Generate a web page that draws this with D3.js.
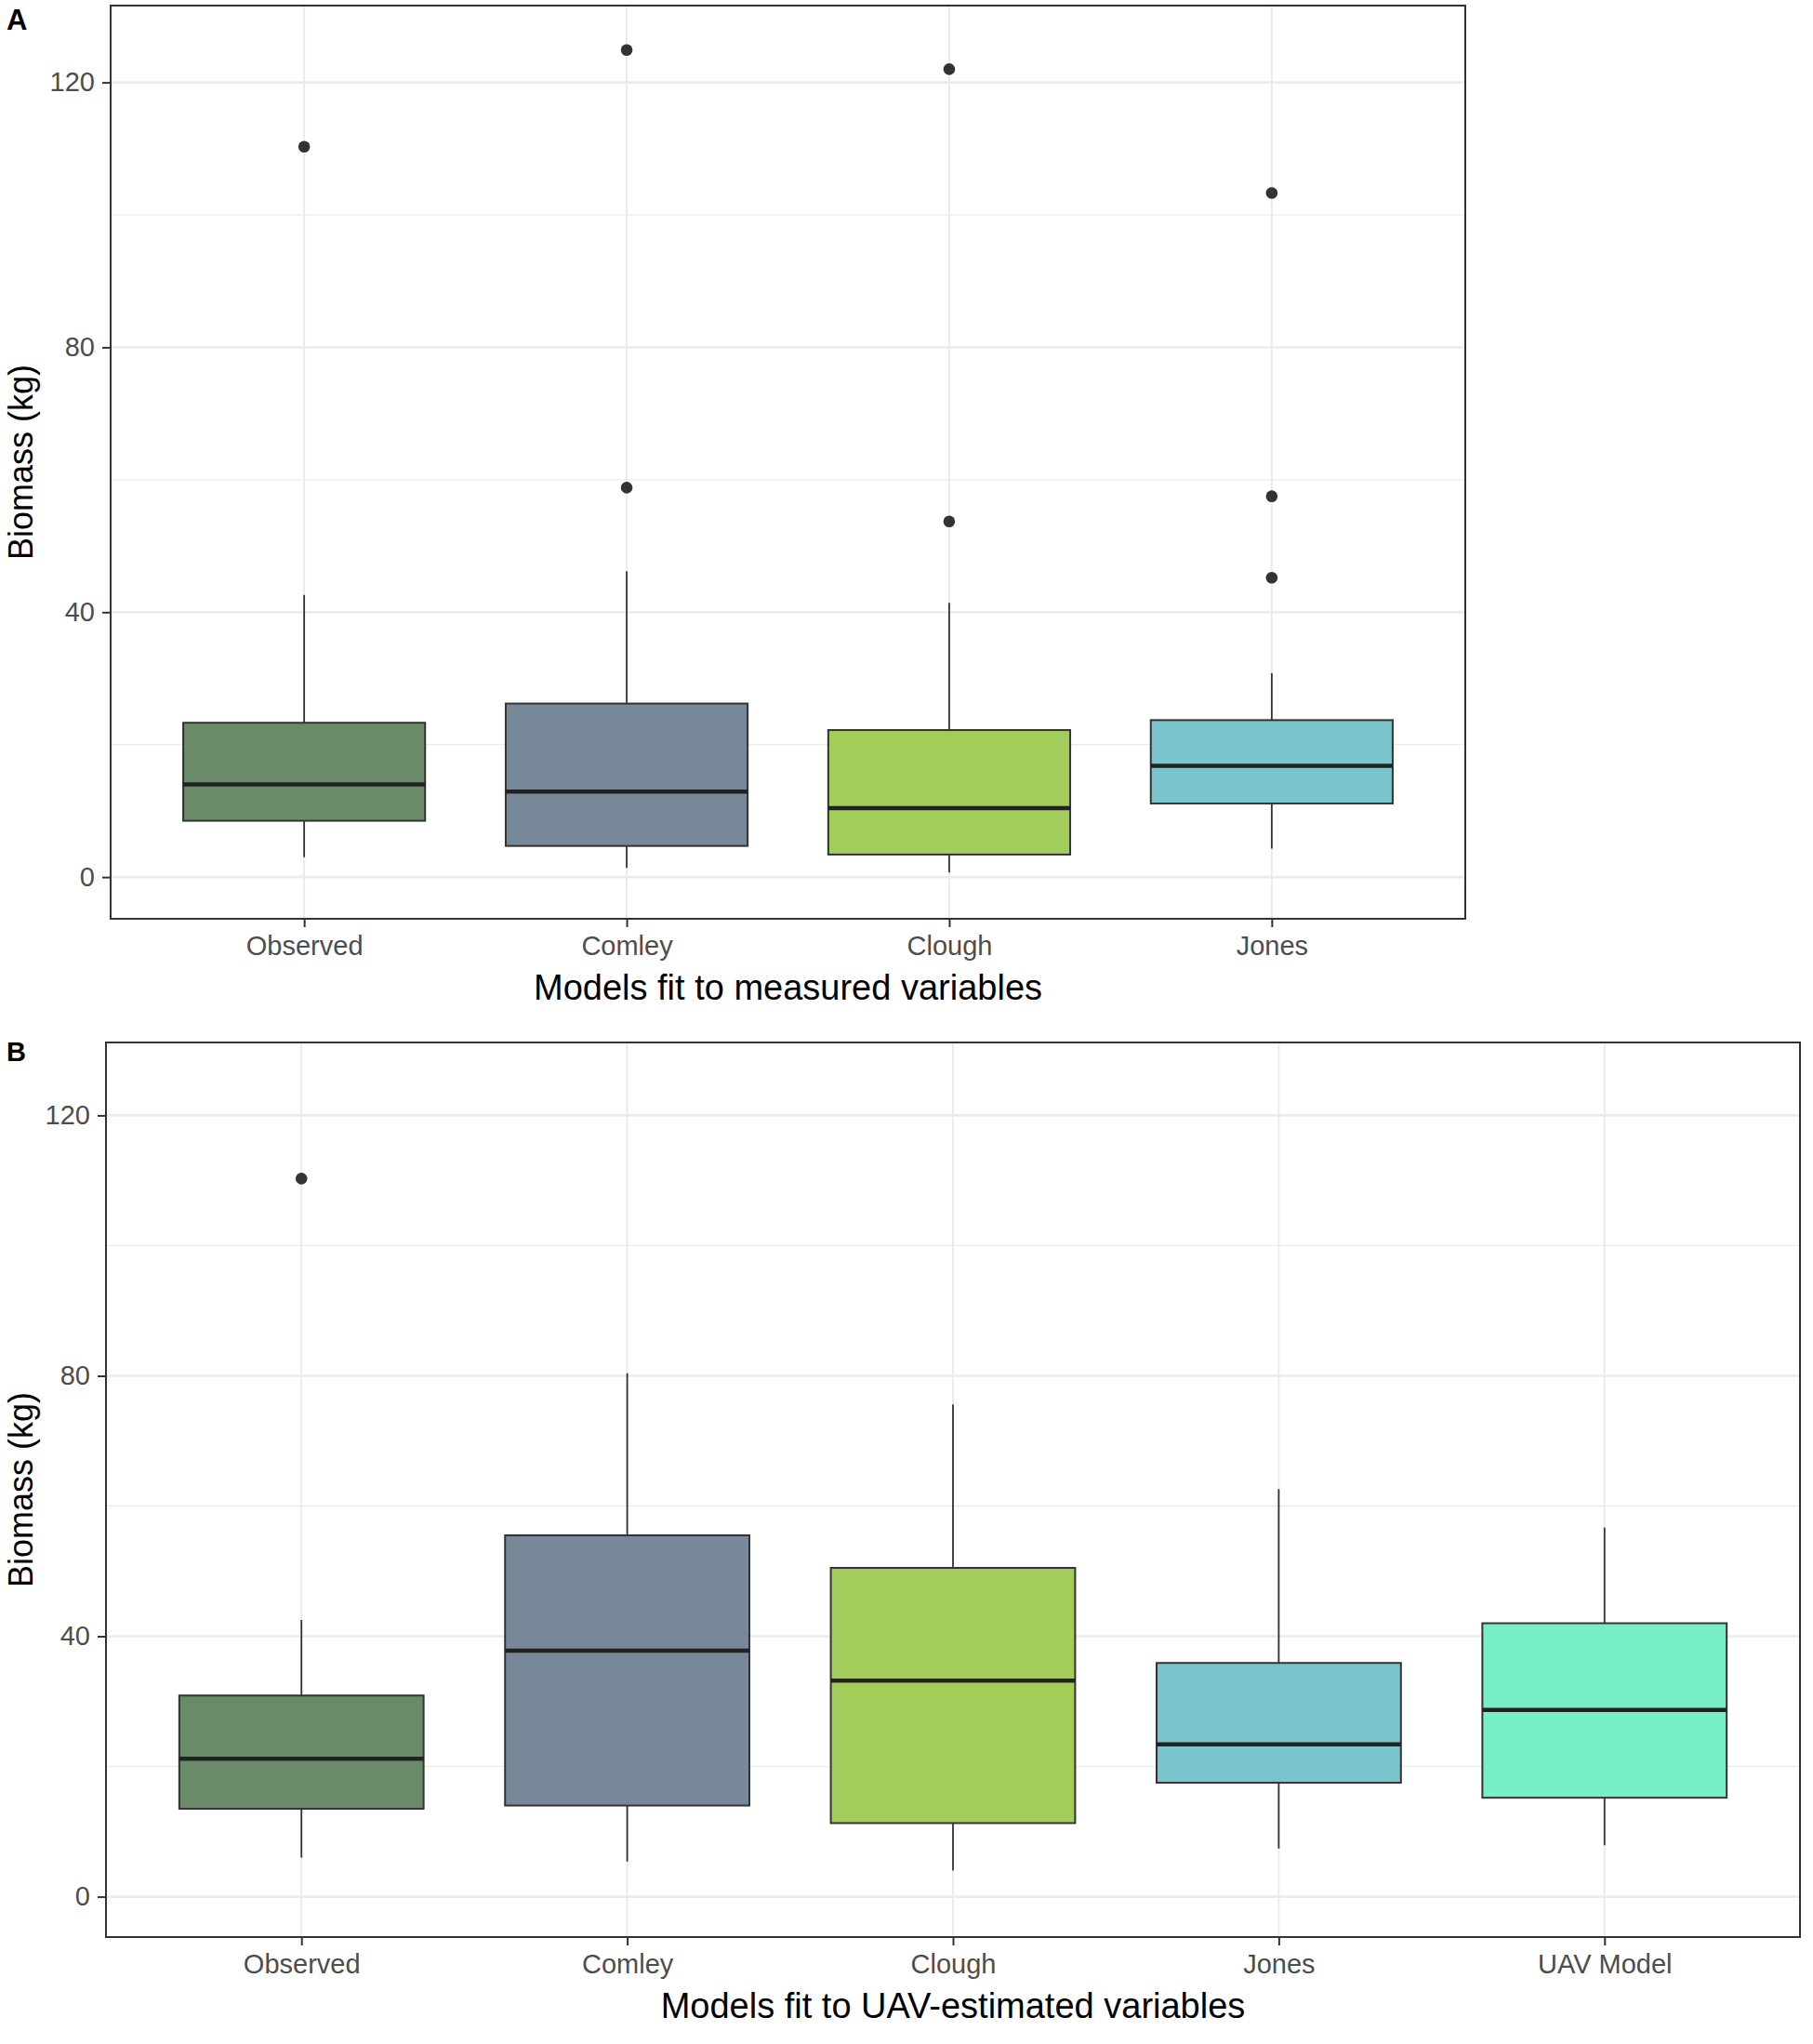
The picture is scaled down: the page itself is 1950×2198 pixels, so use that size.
<!DOCTYPE html>
<html>
<head>
<meta charset="utf-8">
<script src="https://cdn.jsdelivr.net/npm/d3@7"></script>
<style>
  html, body { margin: 0; padding: 0; background: #fff; }
  svg { display: block; font-family: "Liberation Sans", Arial, Helvetica, sans-serif; }
</style>
</head>
<body>
<svg id="chart" width="1950" height="2198"></svg>
<script>
// ---------- DATA ----------
const categoriesA = ["Observed", "Comley", "Clough", "Jones"];
const categoriesB = ["Observed", "Comley", "Clough", "Jones", "UAV Model"];

// Panel A (models fit to measured variables): [lower whisker, Q1, median, Q3, upper whisker]
const statsA = [
  [3.0, 8.5, 14.0, 23.3, 42.6],
  [1.4, 4.7, 12.9, 26.2, 46.2],
  [0.7, 3.4, 10.4, 22.2, 41.4],
  [4.3, 11.1, 16.8, 23.7, 30.8]
];
const outliersA = [
  [110.3],
  [124.9, 58.8],
  [122.0, 53.7],
  [103.3, 57.5, 45.2]
];

// Panel B (models fit to UAV-estimated variables)
const statsB = [
  [6.0, 13.5, 21.2, 30.9, 42.5],
  [5.4, 14.0, 37.8, 55.5, 80.4],
  [4.0, 11.3, 33.2, 50.5, 75.6],
  [7.4, 17.5, 23.4, 35.9, 62.6],
  [7.9, 15.2, 28.7, 42.0, 56.7]
];
const outliersB = [
  [110.3],
  [],
  [],
  [],
  []
];

const fillColors = ["#698B69", "#778899", "#A2CD5A", "#7AC5CD", "#76EEC6"];
const yTicks = [0, 40, 80, 120];
const yMinorTicks = [20, 60, 100];
const yDomainA = [-6.3, 131.6];
const yDomainB = [-6.2, 131.2];
const xTitleA = "Models fit to measured variables";
const xTitleB = "Models fit to UAV-estimated variables";
const yTitle = "Biomass (kg)";

// ---------- DRAW ----------
const svg = d3.select("#chart");

function drawPanel(cfg) {
  const { left, right, top, bottom, cats, stats, outliers, domain, xTitle, letter, letterY, letterSize } = cfg;
  const g = svg.append("g");

  const x = d3.scalePoint().domain(cats).range([left, right]).padding(0.6);
  const y = d3.scaleLinear().domain(domain).range([bottom, top]);
  const boxW = x.step() * 0.75;

  g.append("rect").attr("x", left).attr("y", top).attr("width", right - left).attr("height", bottom - top)
    .attr("fill", "#fff");

  // minor grid
  g.selectAll(".gmin").data(yMinorTicks).join("line")
    .attr("x1", left).attr("x2", right)
    .attr("y1", d => y(d)).attr("y2", d => y(d))
    .attr("stroke", "#EBEBEB").attr("stroke-width", 1.3);
  // major grid
  g.selectAll(".gmaj").data(yTicks).join("line")
    .attr("x1", left).attr("x2", right)
    .attr("y1", d => y(d)).attr("y2", d => y(d))
    .attr("stroke", "#EBEBEB").attr("stroke-width", 2.6);
  g.selectAll(".gx").data(cats).join("line")
    .attr("x1", d => x(d)).attr("x2", d => x(d))
    .attr("y1", top).attr("y2", bottom)
    .attr("stroke", "#EBEBEB").attr("stroke-width", 2);

  // boxes
  const box = g.selectAll(".box").data(cats).join("g");
  box.append("line")
    .attr("x1", d => x(d)).attr("x2", d => x(d))
    .attr("y1", (d, i) => y(stats[i][4])).attr("y2", (d, i) => y(stats[i][3]))
    .attr("stroke", "#333").attr("stroke-width", 1.8);
  box.append("line")
    .attr("x1", d => x(d)).attr("x2", d => x(d))
    .attr("y1", (d, i) => y(stats[i][1])).attr("y2", (d, i) => y(stats[i][0]))
    .attr("stroke", "#333").attr("stroke-width", 1.8);
  box.append("rect")
    .attr("x", d => x(d) - boxW / 2).attr("width", boxW)
    .attr("y", (d, i) => y(stats[i][3]))
    .attr("height", (d, i) => y(stats[i][1]) - y(stats[i][3]))
    .attr("fill", (d, i) => fillColors[i])
    .attr("stroke", "#333").attr("stroke-width", 2);
  box.append("line")
    .attr("x1", d => x(d) - boxW / 2).attr("x2", d => x(d) + boxW / 2)
    .attr("y1", (d, i) => y(stats[i][2])).attr("y2", (d, i) => y(stats[i][2]))
    .attr("stroke", "#222").attr("stroke-width", 4.5);

  // outliers
  const pts = [];
  outliers.forEach((arr, i) => arr.forEach(v => pts.push({ c: cats[i], v })));
  g.selectAll(".out").data(pts).join("circle")
    .attr("cx", d => x(d.c)).attr("cy", d => y(d.v)).attr("r", 6.3)
    .attr("fill", "#333");

  // border
  g.append("rect").attr("x", left).attr("y", top).attr("width", right - left).attr("height", bottom - top)
    .attr("fill", "none").attr("stroke", "#333").attr("stroke-width", 2);

  // y axis
  const yAxis = d3.axisLeft(y).tickValues(yTicks).tickSize(9).tickPadding(8).tickFormat(d3.format("d"));
  const ya = g.append("g").attr("transform", `translate(${left},0)`).call(yAxis);
  ya.select(".domain").remove();
  ya.selectAll(".tick line").attr("stroke", "#333").attr("stroke-width", 2);
  ya.selectAll(".tick text").attr("fill", "#4D4D4D").attr("font-size", 29)
    .attr("font-family", "Liberation Sans, Arial, sans-serif");

  // x axis
  const xAxis = d3.axisBottom(x).tickSize(9).tickPadding(9);
  const xa = g.append("g").attr("transform", `translate(0,${bottom})`).call(xAxis);
  xa.select(".domain").remove();
  xa.selectAll(".tick line").attr("stroke", "#333").attr("stroke-width", 2);
  xa.selectAll(".tick text").attr("fill", "#4D4D4D").attr("font-size", 29)
    .attr("font-family", "Liberation Sans, Arial, sans-serif");

  // titles
  g.append("text").attr("x", (left + right) / 2).attr("y", bottom + 87)
    .attr("text-anchor", "middle").attr("font-size", 38).attr("fill", "#000").text(xTitle);
  g.append("text")
    .attr("transform", `translate(35,${(top + bottom) / 2}) rotate(-90)`)
    .attr("text-anchor", "middle").attr("font-size", 36).attr("fill", "#000").text(yTitle);

  g.append("text").attr("x", 7).attr("y", letterY)
    .attr("font-size", letterSize).attr("font-weight", "bold").attr("fill", "#000").text(letter);
}

drawPanel({
  left: 119, right: 1576, top: 6, bottom: 988,
  cats: categoriesA, stats: statsA, outliers: outliersA, domain: yDomainA,
  xTitle: xTitleA, letter: "A", letterY: 32, letterSize: 31
});
drawPanel({
  left: 114, right: 1936, top: 1121, bottom: 2083,
  cats: categoriesB, stats: statsB, outliers: outliersB, domain: yDomainB,
  xTitle: xTitleB, letter: "B", letterY: 1141, letterSize: 29
});
</script>
</body>
</html>
